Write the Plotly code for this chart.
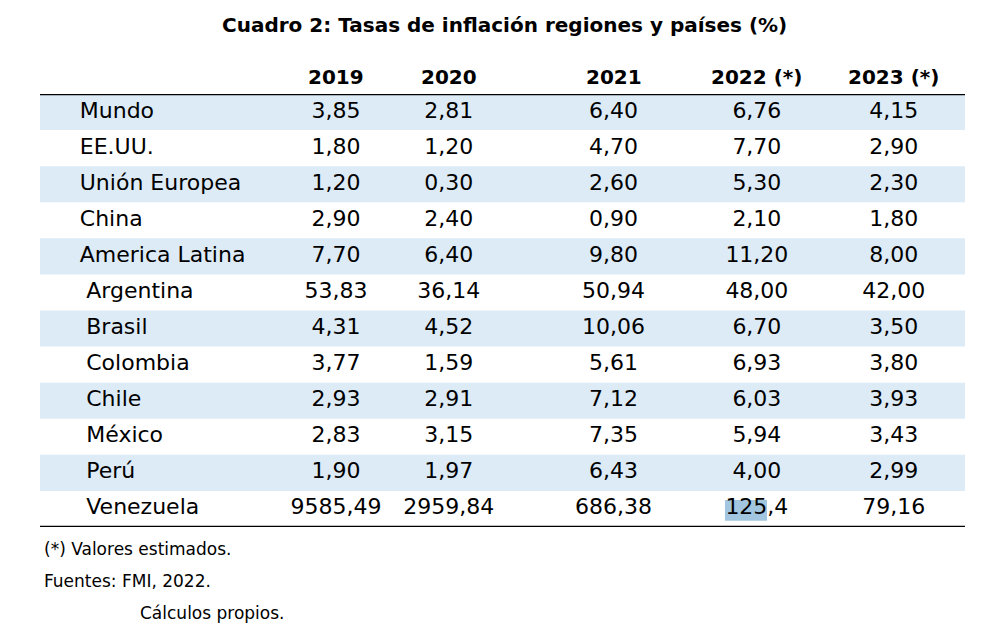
"""
Cuadro 2: tasas de inflación por regiones y países, como tabla Plotly
"""

import plotly.graph_objects as go

# datos del cuadro
COUNTRIES = [
    "Mundo", "EE.UU.", "Unión Europea", "China", "America Latina",
    "Argentina", "Brasil", "Colombia", "Chile", "México", "Perú", "Venezuela",
]
N_REGIONS = 5  # las primeras filas son regiones (sin sangría)

YEARS = ["2019", "2020", "2021", "2022 (*)", "2023 (*)"]

V2019 = [3.85, 1.80, 1.20, 2.90, 7.70, 53.83, 4.31, 3.77, 2.93, 2.83, 1.90, 9585.49]
V2020 = [2.81, 1.20, 0.30, 2.40, 6.40, 36.14, 4.52, 1.59, 2.91, 3.15, 1.97, 2959.84]
V2021 = [6.40, 4.70, 2.60, 0.90, 9.80, 50.94, 10.06, 5.61, 7.12, 7.35, 6.43, 686.38]
V2022 = [6.76, 7.70, 5.30, 2.10, 11.20, 48.00, 6.70, 6.93, 6.03, 5.94, 4.00, 125.4]
V2023 = [4.15, 2.90, 2.30, 1.80, 8.00, 42.00, 3.50, 3.80, 3.93, 3.43, 2.99, 79.16]
SERIES = [V2019, V2020, V2021, V2022, V2023]

# celda que aparece con un solo decimal en el original
ONE_DECIMAL = {("Venezuela", "2022 (*)")}

TITLE = "Cuadro 2: Tasas de inflación regiones y países (%)"
NOTES = ["(*) Valores estimados.", "Fuentes: FMI, 2022.", "Cálculos propios."]

# maquetación (fracciones del ancho de la tabla)
LABEL_X = 0.043
INDENT_X = 0.050
COL_X = [0.320, 0.442, 0.620, 0.775, 0.923]
SHADE = "#DDEBF7"
FONT = "DejaVu Sans"
SIZE = 22


def fmt(v, decimals=2):
    return f"{v:.{decimals}f}".replace(".", ",")


fig = go.Figure()

# nombres de filas
fig.add_trace(go.Scatter(
    x=[LABEL_X if i < N_REGIONS else INDENT_X for i in range(len(COUNTRIES))],
    y=COUNTRIES,
    text=COUNTRIES,
    mode="text",
    textposition="middle right",
    textfont=dict(family=FONT, size=SIZE, color="black"),
    hoverinfo="skip",
))

# valores por año
for year, xpos, vals in zip(YEARS, COL_X, SERIES):
    texts = [
        fmt(v, 1 if (c, year) in ONE_DECIMAL else 2)
        for c, v in zip(COUNTRIES, vals)
    ]
    fig.add_trace(go.Scatter(
        x=[xpos] * len(COUNTRIES),
        y=COUNTRIES,
        text=texts,
        mode="text",
        textposition="middle center",
        textfont=dict(family=FONT, size=SIZE, color="black"),
        name=year,
        hoverinfo="skip",
    ))

shapes = []
# filas sombreadas alternas
for i in range(0, len(COUNTRIES), 2):
    shapes.append(dict(
        type="rect", xref="paper", yref="y",
        x0=0, x1=1, y0=i - 0.5, y1=i + 0.5,
        fillcolor=SHADE, line_width=0, layer="below",
    ))
# resaltado de selección sobre "125"
shapes.append(dict(
    type="rect", xref="paper", yref="y",
    x0=0.7405, x1=0.786, y0=10.75, y1=11.33,
    fillcolor="#A3C6E0", line_width=0, layer="below",
))
# líneas superior e inferior
for yv in (-0.5, len(COUNTRIES) - 0.5):
    shapes.append(dict(
        type="line", xref="paper", yref="y",
        x0=0, x1=1, y0=yv, y1=yv,
        line=dict(color="black", width=2.5),
    ))

annotations = [dict(
    text=f"<b>{TITLE}</b>", xref="paper", yref="paper",
    x=0.502, y=1.159, xanchor="center", yanchor="middle", showarrow=False,
    font=dict(family=FONT, size=20, color="black"),
)]
for year, xpos in zip(YEARS, COL_X):
    annotations.append(dict(
        text=f"<b>{year}</b>", xref="paper", yref="paper",
        x=xpos, y=1.039, xanchor="center", yanchor="middle", showarrow=False,
        font=dict(family=FONT, size=20, color="black"),
    ))
for note, nx, ny in zip(NOTES, [0.002, 0.002, 0.106], [-0.051, -0.125, -0.199]):
    annotations.append(dict(
        text=note, xref="paper", yref="paper",
        x=nx, y=ny, xanchor="left", yanchor="middle", showarrow=False,
        font=dict(family=FONT, size=17, color="black"),
    ))

# la página añade 8 px de margen al cuerpo: se compensa aquí
fig.update_layout(
    width=993, height=634,
    margin=dict(l=32, r=36, t=86, b=115),
    paper_bgcolor="white", plot_bgcolor="white",
    showlegend=False,
    xaxis=dict(range=[0, 1], visible=False, fixedrange=True),
    yaxis=dict(
        type="category", categoryorder="array", categoryarray=COUNTRIES,
        range=[len(COUNTRIES) - 0.5, -0.5], visible=False, fixedrange=True,
    ),
    shapes=shapes,
    annotations=annotations,
)

fig.write_html("out.html")
